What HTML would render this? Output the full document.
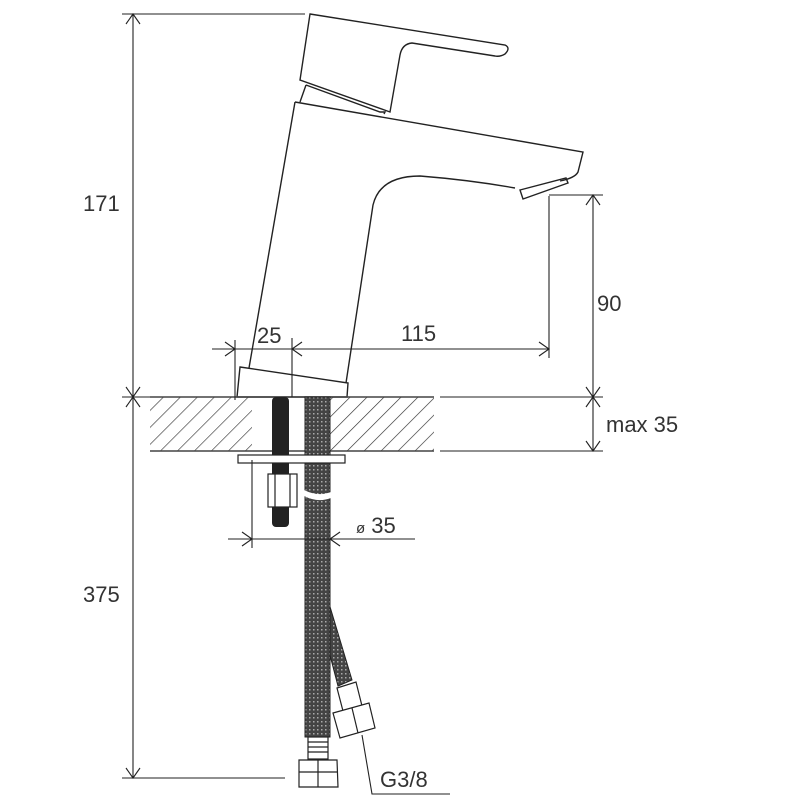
<!DOCTYPE html>
<html><head><meta charset="utf-8"><style>
html,body{margin:0;padding:0;background:#fff}
svg{display:block}
text{font-family:"Liberation Sans",sans-serif;fill:#333}
</style></head><body>
<svg width="800" height="800" viewBox="0 0 800 800" xmlns="http://www.w3.org/2000/svg">
<defs>
<pattern id="h" patternUnits="userSpaceOnUse" width="12" height="12" patternTransform="rotate(45)">
<line x1="0" y1="0" x2="0" y2="12" stroke="#333" stroke-width="1.3"/>
</pattern>
<pattern id="br" patternUnits="userSpaceOnUse" width="4" height="4">
<rect width="4" height="4" fill="#444"/>
<rect x="1" y="1" width="1.5" height="1.5" fill="#aaa"/>
</pattern>
</defs>
<g fill="none" stroke="#222" stroke-width="1.4">
<path d="M310,14 L505,45 Q511,48 505,54 Q500,57 495,56 L412,43 Q402,44 400,55 L390,112 L300,80 Z"/>
<path d="M306,85 L300,102 M306,85 L380,112 L385,112 L384,114"/>
<path d="M295,102 L583,152 L578,172 Q575,178 560,181 M295,102 L249,368"/>
<path d="M515,188 Q470,180 420,176 Q380,176 373,205 L346,383"/>
<path d="M520,190 L566,178 L568,183 L523,199 Z"/>
<path d="M240,367 L348,383 L347,397 L237,397 Z"/>
</g>
<rect x="150" y="397" width="102" height="54" fill="url(#h)"/>
<rect x="330" y="397" width="104" height="54" fill="url(#h)"/>
<g stroke="#444" stroke-width="1.5">
<line x1="150" y1="397" x2="434" y2="397"/>
<line x1="150" y1="451" x2="434" y2="451"/>
</g>
<path d="M328,600 L352,680 L338,686 L326,640 Z" fill="url(#br)" stroke="#222"/>
<rect x="305" y="397" width="25" height="340" fill="url(#br)" stroke="#222"/>
<path d="M304,490 Q318,497 331,492 L331,498 Q318,503 304,496 Z" fill="#fff"/>
<rect x="272" y="397" width="17" height="130" rx="4" fill="#222"/>
<g stroke="#222" stroke-width="1.2" fill="#fff">
<rect x="238" y="455" width="107" height="8"/>
<rect x="268" y="474" width="29" height="33"/>
<line x1="275" y1="474" x2="275" y2="507"/><line x1="290" y1="474" x2="290" y2="507"/>
<rect x="308" y="737" width="20" height="22"/>
<path d="M308,742H328M308,747H328M308,752H328"/>
<path d="M299,760 L337,760 L338,787 L299,787 Z"/>
<line x1="318" y1="760" x2="318" y2="787"/><line x1="299" y1="772" x2="338" y2="772"/>
<path d="M337,688 L356,682 L362,706 L343,711 Z"/>
<path d="M333,713 L369,703 L375,728 L340,738 Z"/>
<line x1="352" y1="708" x2="358" y2="733"/>
</g>
<g stroke="#222" stroke-width="1.1" fill="none">
<line x1="133" y1="14" x2="133" y2="778"/>
<line x1="122" y1="14" x2="305" y2="14"/>
<line x1="122" y1="778" x2="285" y2="778"/>
<line x1="122" y1="397" x2="150" y2="397"/>
<path d="M126,24 L133,14 L140,24 M126,387 L133,397 L140,387 M126,407 L133,397 L140,407 M126,768 L133,778 L140,768"/>
<line x1="212" y1="349" x2="549" y2="349"/>
<line x1="235" y1="340" x2="235" y2="400"/>
<line x1="292" y1="338" x2="292" y2="397"/>
<line x1="549" y1="196" x2="549" y2="358"/>
<path d="M225,342 L235,349 L225,356 M302,342 L292,349 L302,356 M539,342 L549,349 L539,356"/>
<line x1="549" y1="195" x2="603" y2="195"/>
<line x1="593" y1="195" x2="593" y2="451"/>
<line x1="440" y1="397" x2="603" y2="397"/>
<line x1="440" y1="451" x2="603" y2="451"/>
<path d="M586,205 L593,195 L600,205 M586,387 L593,397 L600,387 M586,407 L593,397 L600,407 M586,441 L593,451 L600,441"/>
<line x1="252" y1="460" x2="252" y2="548"/>
<line x1="228" y1="539" x2="415" y2="539"/>
<path d="M242,532 L252,539 L242,546 M340,532 L330,539 L340,546"/>
<path d="M362,735 L372,794 L450,794"/>
</g>
<g font-size="22">
<text x="83" y="211">171</text>
<text x="83" y="602">375</text>
<text x="257" y="343">25</text>
<text x="401" y="341">115</text>
<text x="597" y="311">90</text>
<text x="606" y="432">max 35</text>
<text x="356" y="533"><tspan font-size="15">ø</tspan> 35</text>
<text x="380" y="787">G3/8</text>
</g>
</svg>
</body></html>
